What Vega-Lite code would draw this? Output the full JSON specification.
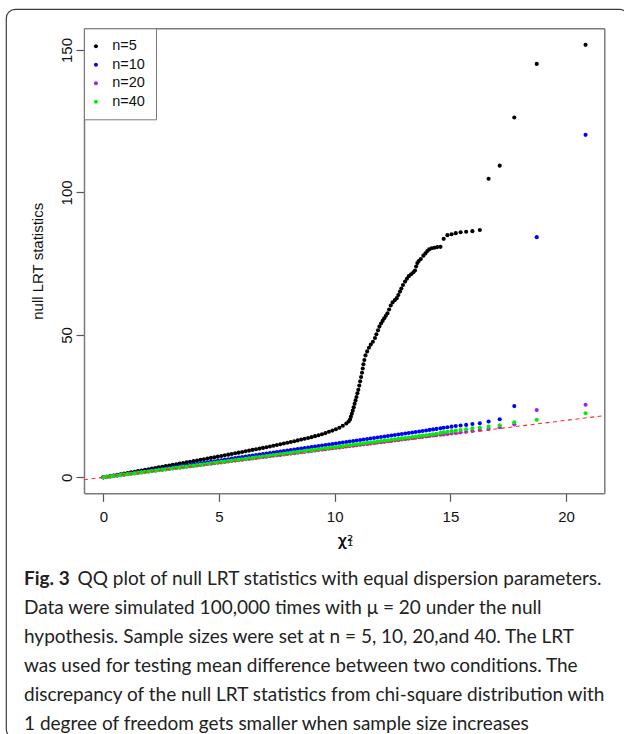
{
  "$schema": "https://vega.github.io/schema/vega-lite/v6.json",
  "autosize": "none",
  "width": 622,
  "height": 729,
  "padding": {"left": 6, "top": 9, "right": -4, "bottom": -4},
  "background": "white",
  "title": {
    "text": "Fig. 3",
    "subtitle": [
      "\u200b\u00a0\u00a0\u00a0\u00a0\u00a0\u00a0\u00a0\u00a0\u00a0\u00a0\u00a0QQ plot of null LRT statistics with equal dispersion parameters.",
      "Data were simulated 100,000 times with μ = 20 under the null",
      "hypothesis. Sample sizes were set at n = 5, 10, 20,and 40. The LRT",
      "was used for testing mean difference between two conditions. The",
      "discrepancy of the null LRT statistics from chi-square distribution with",
      "1 degree of freedom gets smaller when sample size increases"
    ],
    "orient": "bottom",
    "anchor": "start",
    "frame": "group",
    "offset": -168,
    "dx": 18,
    "font": "Lato",
    "fontSize": 19,
    "fontWeight": "bold",
    "color": "#222222",
    "subtitleFont": "Lato",
    "subtitleFontSize": 19,
    "subtitleColor": "#222222",
    "subtitleLineHeight": 29,
    "subtitlePadding": -19
  },
  "datasets": {
    "n5": [
      {"x":0,"y":0.05},{"x":0.15,"y":0.22},{"x":0.3,"y":0.44},{"x":0.45,"y":0.66},{"x":0.6,"y":0.88},{"x":0.75,"y":1.1},{"x":0.9,"y":1.31},{"x":1.05,"y":1.53},{"x":1.2,"y":1.75},{"x":1.35,"y":1.97},{"x":1.5,"y":2.19},{"x":1.65,"y":2.41},{"x":1.8,"y":2.63},{"x":1.95,"y":2.85},{"x":2.1,"y":3.07},{"x":2.25,"y":3.29},{"x":2.4,"y":3.5},{"x":2.55,"y":3.72},{"x":2.7,"y":3.94},{"x":2.85,"y":4.16},{"x":3,"y":4.38},{"x":3.15,"y":4.6},{"x":3.3,"y":4.82},{"x":3.45,"y":5.04},{"x":3.6,"y":5.26},{"x":3.75,"y":5.48},{"x":3.9,"y":5.69},{"x":4.05,"y":5.92},{"x":4.2,"y":6.14},{"x":4.35,"y":6.37},{"x":4.5,"y":6.6},{"x":4.65,"y":6.82},{"x":4.8,"y":7.05},{"x":4.95,"y":7.27},{"x":5.1,"y":7.51},{"x":5.25,"y":7.74},{"x":5.4,"y":7.97},{"x":5.55,"y":8.2},{"x":5.7,"y":8.44},{"x":5.85,"y":8.67},{"x":6,"y":8.9},{"x":6.15,"y":9.14},{"x":6.3,"y":9.38},{"x":6.45,"y":9.62},{"x":6.6,"y":9.86},{"x":6.75,"y":10.1},{"x":6.9,"y":10.34},{"x":7.05,"y":10.58},{"x":7.2,"y":10.84},{"x":7.35,"y":11.1},{"x":7.5,"y":11.35},{"x":7.65,"y":11.6},{"x":7.8,"y":11.86},{"x":7.95,"y":12.12},{"x":8.1,"y":12.39},{"x":8.25,"y":12.68},{"x":8.4,"y":12.97},{"x":8.55,"y":13.26},{"x":8.7,"y":13.54},{"x":8.85,"y":13.82},{"x":9,"y":14.1},{"x":9.15,"y":14.45},{"x":9.3,"y":14.79},{"x":9.45,"y":15.14},{"x":9.6,"y":15.54},{"x":9.75,"y":15.98},{"x":9.9,"y":16.41},{"x":10.05,"y":16.88},{"x":10.2,"y":17.42},{"x":10.35,"y":18.12},{"x":10.5,"y":18.9},
      {"x":10.6,"y":19.6},{"x":10.66,"y":20.3},{"x":10.7,"y":21.3},{"x":10.74,"y":22.3},{"x":10.78,"y":23.4},{"x":10.82,"y":24.6},{"x":10.86,"y":25.8},{"x":10.9,"y":27.0},{"x":10.94,"y":28.2},{"x":10.98,"y":29.5},{"x":11.02,"y":30.7},{"x":11.06,"y":32.2},{"x":11.1,"y":33.7},{"x":11.14,"y":35.2},{"x":11.18,"y":36.7},{"x":11.21,"y":38.2},{"x":11.24,"y":39.7},{"x":11.28,"y":41.2},{"x":11.33,"y":42.8},{"x":11.4,"y":44.2},{"x":11.48,"y":45.5},{"x":11.56,"y":46.6},{"x":11.65,"y":47.6},{"x":11.74,"y":48.9},{"x":11.8,"y":50.2},{"x":11.87,"y":51.6},{"x":11.93,"y":52.9},{"x":12.0,"y":54.0},{"x":12.07,"y":54.9},{"x":12.14,"y":55.8},{"x":12.21,"y":56.7},{"x":12.28,"y":57.6},{"x":12.35,"y":58.9},{"x":12.42,"y":60.3},{"x":12.5,"y":61.4},{"x":12.6,"y":62.2},{"x":12.68,"y":62.9},{"x":12.75,"y":64.0},{"x":12.82,"y":65.2},{"x":12.88,"y":66.3},{"x":12.95,"y":67.5},{"x":13.04,"y":68.7},{"x":13.12,"y":69.7},{"x":13.2,"y":70.6},{"x":13.3,"y":71.3},{"x":13.4,"y":72.0},{"x":13.47,"y":72.6},{"x":13.52,"y":74.0},{"x":13.57,"y":75.2},{"x":13.63,"y":75.9},{"x":13.72,"y":76.6},{"x":13.83,"y":77.8},{"x":13.92,"y":78.6},{"x":14.0,"y":79.4},{"x":14.08,"y":80.0},{"x":14.19,"y":80.4},{"x":14.31,"y":80.6},{"x":14.43,"y":80.8},{"x":14.57,"y":80.9},{"x":14.71,"y":83.7},{"x":14.87,"y":85.0},{"x":15.05,"y":85.3},{"x":15.23,"y":85.7},{"x":15.44,"y":86.0},{"x":15.68,"y":86.2},{"x":15.95,"y":86.4},{"x":16.27,"y":86.8},{"x":16.65,"y":104.8},{"x":17.13,"y":109.4},{"x":17.76,"y":126.3},{"x":18.73,"y":145.1},{"x":20.84,"y":151.8}
    ],
    "n10": [
      {"x":0,"y":0},{"x":0.15,"y":0.18},{"x":0.3,"y":0.35},{"x":0.45,"y":0.53},{"x":0.6,"y":0.71},{"x":0.75,"y":0.89},{"x":0.9,"y":1.06},{"x":1.05,"y":1.24},{"x":1.2,"y":1.42},{"x":1.35,"y":1.59},{"x":1.5,"y":1.77},{"x":1.65,"y":1.95},{"x":1.8,"y":2.12},{"x":1.95,"y":2.3},{"x":2.1,"y":2.48},{"x":2.25,"y":2.66},{"x":2.4,"y":2.83},{"x":2.55,"y":3.01},{"x":2.7,"y":3.19},{"x":2.85,"y":3.36},{"x":3,"y":3.54},{"x":3.15,"y":3.72},{"x":3.3,"y":3.89},{"x":3.45,"y":4.07},{"x":3.6,"y":4.25},{"x":3.75,"y":4.43},{"x":3.9,"y":4.6},{"x":4.05,"y":4.78},{"x":4.2,"y":4.96},{"x":4.35,"y":5.13},{"x":4.5,"y":5.31},{"x":4.65,"y":5.49},{"x":4.8,"y":5.66},{"x":4.95,"y":5.84},{"x":5.1,"y":6.02},{"x":5.25,"y":6.2},{"x":5.4,"y":6.37},{"x":5.55,"y":6.55},{"x":5.7,"y":6.73},{"x":5.85,"y":6.9},{"x":6,"y":7.08},{"x":6.15,"y":7.26},{"x":6.3,"y":7.43},{"x":6.45,"y":7.61},{"x":6.6,"y":7.79},{"x":6.75,"y":7.97},{"x":6.9,"y":8.14},{"x":7.05,"y":8.32},{"x":7.2,"y":8.5},{"x":7.35,"y":8.67},{"x":7.5,"y":8.85},{"x":7.65,"y":9.03},{"x":7.8,"y":9.2},{"x":7.95,"y":9.38},{"x":8.1,"y":9.56},{"x":8.25,"y":9.74},{"x":8.4,"y":9.91},{"x":8.55,"y":10.09},{"x":8.7,"y":10.27},{"x":8.85,"y":10.44},{"x":9,"y":10.62},{"x":9.15,"y":10.8},{"x":9.3,"y":10.97},{"x":9.45,"y":11.15},{"x":9.6,"y":11.33},{"x":9.75,"y":11.51},{"x":9.9,"y":11.68},{"x":10.05,"y":11.86},{"x":10.2,"y":12.04},{"x":10.35,"y":12.21},{"x":10.5,"y":12.39},{"x":10.65,"y":12.57},{"x":10.8,"y":12.74},{"x":10.95,"y":12.92},{"x":11.1,"y":13.1},{"x":11.25,"y":13.28},{"x":11.4,"y":13.45},{"x":11.55,"y":13.63},{"x":11.7,"y":13.81},{"x":11.85,"y":13.98},{"x":12,"y":14.16},{"x":12.15,"y":14.34},{"x":12.3,"y":14.51},{"x":12.45,"y":14.69},{"x":12.6,"y":14.87},{"x":12.75,"y":15.05},{"x":12.9,"y":15.22},{"x":13.05,"y":15.4},{"x":13.2,"y":15.58},{"x":13.35,"y":15.75},{"x":13.5,"y":15.93},{"x":13.65,"y":16.11},{"x":13.8,"y":16.28},{"x":13.95,"y":16.46},{"x":14.1,"y":16.64},{"x":14.25,"y":16.82},{"x":14.4,"y":16.99},
      {"x":14.57,"y":17.2},{"x":14.71,"y":17.4},{"x":14.87,"y":17.6},{"x":15.05,"y":17.8},{"x":15.23,"y":18.0},{"x":15.44,"y":18.2},{"x":15.68,"y":18.4},{"x":15.95,"y":18.7},{"x":16.27,"y":19.0},{"x":16.65,"y":19.6},{"x":17.13,"y":20.4},{"x":17.76,"y":25.0},{"x":18.73,"y":84.3},{"x":20.84,"y":120.2}
    ],
    "n20": [
      {"x":0,"y":0},{"x":0.15,"y":0.15},{"x":0.3,"y":0.31},{"x":0.45,"y":0.46},{"x":0.6,"y":0.62},{"x":0.75,"y":0.77},{"x":0.9,"y":0.93},{"x":1.05,"y":1.08},{"x":1.2,"y":1.24},{"x":1.35,"y":1.39},{"x":1.5,"y":1.55},{"x":1.65,"y":1.7},{"x":1.8,"y":1.85},{"x":1.95,"y":2.01},{"x":2.1,"y":2.16},{"x":2.25,"y":2.32},{"x":2.4,"y":2.47},{"x":2.55,"y":2.63},{"x":2.7,"y":2.78},{"x":2.85,"y":2.94},{"x":3,"y":3.09},{"x":3.15,"y":3.24},{"x":3.3,"y":3.4},{"x":3.45,"y":3.55},{"x":3.6,"y":3.71},{"x":3.75,"y":3.86},{"x":3.9,"y":4.02},{"x":4.05,"y":4.17},{"x":4.2,"y":4.33},{"x":4.35,"y":4.48},{"x":4.5,"y":4.64},{"x":4.65,"y":4.79},{"x":4.8,"y":4.94},{"x":4.95,"y":5.1},{"x":5.1,"y":5.25},{"x":5.25,"y":5.41},{"x":5.4,"y":5.56},{"x":5.55,"y":5.72},{"x":5.7,"y":5.87},{"x":5.85,"y":6.03},{"x":6,"y":6.18},{"x":6.15,"y":6.33},{"x":6.3,"y":6.49},{"x":6.45,"y":6.64},{"x":6.6,"y":6.8},{"x":6.75,"y":6.95},{"x":6.9,"y":7.11},{"x":7.05,"y":7.26},{"x":7.2,"y":7.42},{"x":7.35,"y":7.57},{"x":7.5,"y":7.73},{"x":7.65,"y":7.88},{"x":7.8,"y":8.03},{"x":7.95,"y":8.19},{"x":8.1,"y":8.34},{"x":8.25,"y":8.5},{"x":8.4,"y":8.65},{"x":8.55,"y":8.81},{"x":8.7,"y":8.96},{"x":8.85,"y":9.12},{"x":9,"y":9.27},{"x":9.15,"y":9.42},{"x":9.3,"y":9.58},{"x":9.45,"y":9.73},{"x":9.6,"y":9.89},{"x":9.75,"y":10.04},{"x":9.9,"y":10.2},{"x":10.05,"y":10.35},{"x":10.2,"y":10.51},{"x":10.35,"y":10.66},{"x":10.5,"y":10.82},{"x":10.65,"y":10.97},{"x":10.8,"y":11.12},{"x":10.95,"y":11.28},{"x":11.1,"y":11.43},{"x":11.25,"y":11.59},{"x":11.4,"y":11.74},{"x":11.55,"y":11.9},{"x":11.7,"y":12.05},{"x":11.85,"y":12.21},{"x":12,"y":12.36},{"x":12.15,"y":12.51},{"x":12.3,"y":12.67},{"x":12.45,"y":12.82},{"x":12.6,"y":12.98},{"x":12.75,"y":13.13},{"x":12.9,"y":13.29},{"x":13.05,"y":13.44},{"x":13.2,"y":13.6},{"x":13.35,"y":13.75},{"x":13.5,"y":13.91},{"x":13.65,"y":14.06},{"x":13.8,"y":14.21},{"x":13.95,"y":14.37},{"x":14.1,"y":14.52},{"x":14.25,"y":14.68},{"x":14.4,"y":14.83},
      {"x":14.57,"y":14.95},{"x":14.71,"y":15.05},{"x":14.87,"y":15.2},{"x":15.05,"y":15.4},{"x":15.23,"y":15.6},{"x":15.44,"y":15.8},{"x":15.68,"y":16.0},{"x":15.95,"y":16.3},{"x":16.27,"y":16.6},{"x":16.65,"y":17.0},{"x":17.13,"y":17.6},{"x":17.76,"y":18.6},{"x":18.73,"y":23.6},{"x":20.84,"y":25.5}
    ],
    "n40": [
      {"x":0,"y":0},{"x":0.15,"y":0.16},{"x":0.3,"y":0.32},{"x":0.45,"y":0.48},{"x":0.6,"y":0.64},{"x":0.75,"y":0.8},{"x":0.9,"y":0.95},{"x":1.05,"y":1.11},{"x":1.2,"y":1.27},{"x":1.35,"y":1.43},{"x":1.5,"y":1.59},{"x":1.65,"y":1.75},{"x":1.8,"y":1.91},{"x":1.95,"y":2.07},{"x":2.1,"y":2.23},{"x":2.25,"y":2.39},{"x":2.4,"y":2.54},{"x":2.55,"y":2.7},{"x":2.7,"y":2.86},{"x":2.85,"y":3.02},{"x":3,"y":3.18},{"x":3.15,"y":3.34},{"x":3.3,"y":3.5},{"x":3.45,"y":3.66},{"x":3.6,"y":3.82},{"x":3.75,"y":3.98},{"x":3.9,"y":4.13},{"x":4.05,"y":4.29},{"x":4.2,"y":4.45},{"x":4.35,"y":4.61},{"x":4.5,"y":4.77},{"x":4.65,"y":4.93},{"x":4.8,"y":5.09},{"x":4.95,"y":5.25},{"x":5.1,"y":5.41},{"x":5.25,"y":5.57},{"x":5.4,"y":5.72},{"x":5.55,"y":5.88},{"x":5.7,"y":6.04},{"x":5.85,"y":6.2},{"x":6,"y":6.36},{"x":6.15,"y":6.52},{"x":6.3,"y":6.68},{"x":6.45,"y":6.84},{"x":6.6,"y":7.0},{"x":6.75,"y":7.16},{"x":6.9,"y":7.31},{"x":7.05,"y":7.47},{"x":7.2,"y":7.63},{"x":7.35,"y":7.79},{"x":7.5,"y":7.95},{"x":7.65,"y":8.11},{"x":7.8,"y":8.27},{"x":7.95,"y":8.43},{"x":8.1,"y":8.59},{"x":8.25,"y":8.75},{"x":8.4,"y":8.9},{"x":8.55,"y":9.06},{"x":8.7,"y":9.22},{"x":8.85,"y":9.38},{"x":9,"y":9.54},{"x":9.15,"y":9.7},{"x":9.3,"y":9.86},{"x":9.45,"y":10.02},{"x":9.6,"y":10.18},{"x":9.75,"y":10.34},{"x":9.9,"y":10.49},{"x":10.05,"y":10.65},{"x":10.2,"y":10.81},{"x":10.35,"y":10.97},{"x":10.5,"y":11.13},{"x":10.65,"y":11.29},{"x":10.8,"y":11.45},{"x":10.95,"y":11.61},{"x":11.1,"y":11.77},{"x":11.25,"y":11.93},{"x":11.4,"y":12.08},{"x":11.55,"y":12.24},{"x":11.7,"y":12.4},{"x":11.85,"y":12.56},{"x":12,"y":12.72},{"x":12.15,"y":12.88},{"x":12.3,"y":13.04},{"x":12.45,"y":13.2},{"x":12.6,"y":13.36},{"x":12.75,"y":13.52},{"x":12.9,"y":13.67},{"x":13.05,"y":13.83},{"x":13.2,"y":13.99},{"x":13.35,"y":14.15},{"x":13.5,"y":14.31},{"x":13.65,"y":14.47},{"x":13.8,"y":14.63},{"x":13.95,"y":14.79},{"x":14.1,"y":14.95},{"x":14.25,"y":15.11},{"x":14.4,"y":15.26},
      {"x":14.57,"y":15.6},{"x":14.71,"y":15.8},{"x":14.87,"y":16.0},{"x":15.05,"y":16.2},{"x":15.23,"y":16.4},{"x":15.44,"y":16.6},{"x":15.68,"y":16.9},{"x":15.95,"y":17.2},{"x":16.27,"y":17.5},{"x":16.65,"y":17.8},{"x":17.13,"y":18.3},{"x":17.76,"y":19.3},{"x":18.73,"y":20.2},{"x":20.84,"y":22.5}
    ],
    "ref": [{"x":-0.834,"y":-0.834},{"x":21.65,"y":21.65}]
  },
  "layer": [
    {
      "data": {"name": "n5"},
      "mark": {"type": "circle", "size": 17, "opacity": 1},
      "encoding": {
        "x": {"field": "x", "type": "quantitative",
          "scale": {"domain": [-0.834, 21.65], "range": [78, 598.3], "nice": false, "zero": false},
          "axis": {"orient": "bottom", "offset": -244.7, "values": [0, 5, 10, 15, 20], "labelBaseline": "alphabetic", "labelAlign": "center", "labelPadding": 19.7, "labelFlush": false, "labelOverlap": false,
            "title": ["χ²", "χ₁"], "titleFont": "DejaVu Sans", "titleLineHeight": 0.01, "titleFontSize": 16, "titleX": 339, "titleY": 52.5, "titleBaseline": "alphabetic", "titleAlign": "center"}},
        "y": {"field": "y", "type": "quantitative",
          "scale": {"domain": [-5.6, 157.6], "range": [484.3, 19.3], "nice": false, "zero": false},
          "axis": {"orient": "left", "offset": -78, "values": [0, 50, 100, 150], "labelAngle": -90, "labelAlign": "center", "labelBaseline": "alphabetic", "labelPadding": 4.6, "labelFlush": false, "labelOverlap": false,
            "title": "null LRT statistics", "titleX": -41.3, "titleY": 251.8, "titleAngle": -90, "titleBaseline": "alphabetic", "titleAlign": "center"}},
        "color": {"datum": "n=5", "type": "nominal",
          "scale": {"domain": ["n=5", "n=10", "n=20", "n=40"], "range": ["#000000", "#0000ff", "#a020f0", "#00ee00"]},
          "legend": {"orient": "none", "legendX": 78, "legendY": 19.3, "title": null, "strokeColor": "#7a7a7a", "fillColor": "white", "padding": 10.7, "symbolType": "circle", "symbolSize": 16, "symbolStrokeWidth": 0, "symbolOpacity": 1, "symbolOffset": -6, "labelFont": "Liberation Sans", "labelFontSize": 14.5, "labelColor": "#111111", "labelOffset": 9, "rowPadding": 3.5}}
      }
    },
    {
      "data": {"name": "n10"},
      "mark": {"type": "circle", "size": 17, "opacity": 1},
      "encoding": {
        "x": {"field": "x", "type": "quantitative", "axis": null},
        "y": {"field": "y", "type": "quantitative", "axis": null},
        "color": {"datum": "n=10", "type": "nominal"}
      }
    },
    {
      "data": {"name": "n20"},
      "mark": {"type": "circle", "size": 17, "opacity": 1},
      "encoding": {
        "x": {"field": "x", "type": "quantitative", "axis": null},
        "y": {"field": "y", "type": "quantitative", "axis": null},
        "color": {"datum": "n=20", "type": "nominal"}
      }
    },
    {
      "data": {"name": "n40"},
      "mark": {"type": "circle", "size": 17, "opacity": 1},
      "encoding": {
        "x": {"field": "x", "type": "quantitative", "axis": null},
        "y": {"field": "y", "type": "quantitative", "axis": null},
        "color": {"datum": "n=40", "type": "nominal"}
      }
    },
    {
      "data": {"name": "ref"},
      "mark": {"type": "line", "color": "#ff2a2a", "strokeWidth": 1.1, "strokeDash": [4, 3.5]},
      "encoding": {
        "x": {"field": "x", "type": "quantitative", "axis": {"orient": "top", "offset": -19.3, "ticks": false, "labels": false, "title": null}},
        "y": {"field": "y", "type": "quantitative", "axis": {"orient": "right", "offset": -23.7, "ticks": false, "labels": false, "title": null}}
      }
    }
  ],
  "resolve": {"axis": {"x": "independent", "y": "independent"}},
  "config": {
    "view": {"stroke": "#3c3c3c", "strokeWidth": 1.2, "cornerRadius": 9, "fill": "white"},
    "axis": {"grid": false, "labelFont": "Liberation Sans", "titleFont": "Liberation Sans", "labelFontSize": 15, "titleFontSize": 15, "labelColor": "#111111", "titleColor": "#111111", "titleFontWeight": "normal", "domainColor": "#7a7a7a", "domainWidth": 1.5, "tickColor": "#555555", "tickWidth": 1.2, "tickSize": 8}
  }
}
